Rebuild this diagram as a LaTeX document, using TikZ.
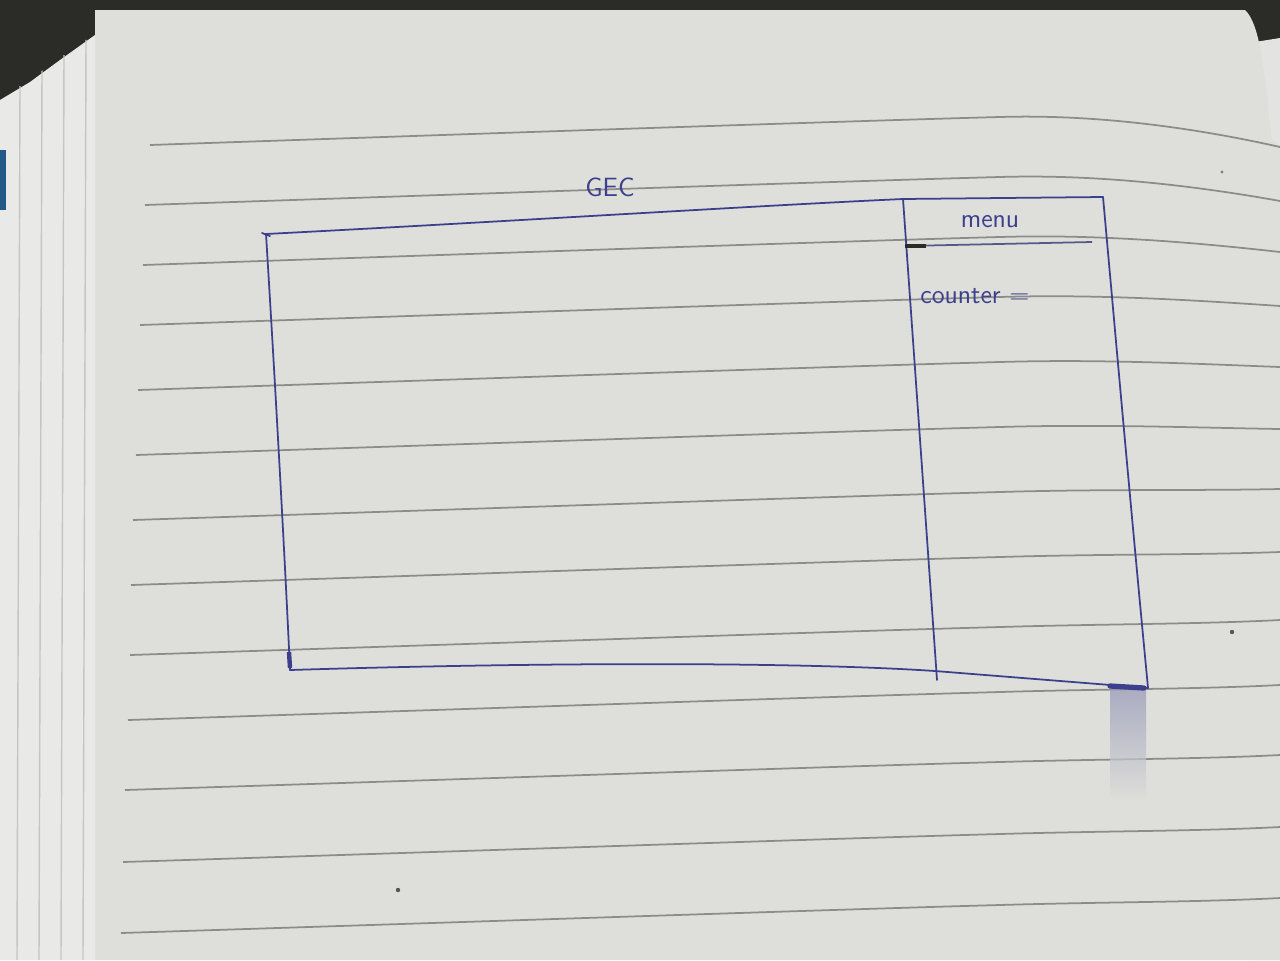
\documentclass[tikz,border=0pt]{standalone}
\usetikzlibrary{calc}
\definecolor{bgdark}{HTML}{2B2C28}
\definecolor{paper}{HTML}{DEDEDA}
\definecolor{stackpaper}{HTML}{E9E9E7}
\definecolor{stackline}{HTML}{C4C6C4}
\definecolor{rulegrey}{HTML}{8C8D8A}
\definecolor{inkblue}{HTML}{3B3F8C}
\begin{document}
\begin{tikzpicture}[x=0.02cm,y=-0.02cm,
  ink/.style={draw=inkblue, line width=1pt, line join=round, line cap=round},
  rule/.style={draw=rulegrey, line width=1pt},
  hand/.style={text=inkblue, font=\sffamily\fontsize{15}{15}\selectfont, inner sep=0pt}]
\useasboundingbox (0,0) rectangle (1280,960);

% desk and notebook page
\fill[bgdark] (0,0) rectangle (1280,960);
\fill[stackpaper!94!gray] (1255,42) -- (1280,38) -- (1280,960) -- (1255,960) -- cycle;
\fill[paper] (95,10) -- (1245,10) .. controls (1256,20) and (1262,50) .. (1266,90)
  -- (1272,140) -- (1280,145) -- (1280,960) -- (95,960) -- cycle;
% stacked page edges on the left
\fill[stackpaper] (0,100) -- (30,82) -- (60,60) -- (95,35) -- (95,960) -- (0,960) -- cycle;
\foreach \sx in {20,42,64,86}
  \draw[stackline, line width=0.8pt] (\sx,{100-(\sx*0.7)}) -- (\sx-3,960);
\fill[inkblue!60!teal] (0,150) rectangle (6,210);

% ruled lines of the notebook: left start, height, sag at the right edge
\foreach \ly/\lx/\sag in {145/150/30,205/145/24,265/143/15,325/140/9,390/138/5,
                          455/136/2,520/133/-3,585/131/-5,655/130/-7,720/128/-7,
                          790/125/-7,862/123/-7,933/121/-7}
  \draw[rule] (\lx,\ly) .. controls (500,\ly-12) and (850,\ly-24) .. (1000,\ly-28)
    .. controls (1100,\ly-31) and (1200,{\ly-28+0.4*\sag}) .. (1280,\ly-28+\sag);

% stray dots on the page
\fill[bgdark!80] (1232,632) circle (2.2);
\fill[bgdark!80] (398,890) circle (2.2);
\fill[bgdark!60] (1222,172) circle (1.6);

% ink bleed below the lower right corner
\shade[top color=inkblue!45!paper, bottom color=paper, opacity=0.7]
  (1110,688) rectangle (1146,800);

% corner points of the sketched layout
\coordinate (tl) at (266,234);
\coordinate (tm) at (903,199);
\coordinate (tr) at (1103,197);
\coordinate (br) at (1148,688);
\coordinate (bm) at (937,680);
\coordinate (bl) at (290,670);

% game area and side panel outline
\draw[ink] (tl) .. controls (500,222) and (750,206) .. (tm) -- (tr);
\draw[ink] (tl) .. controls (275,380) and (285,560) .. (bl);
\draw[ink] (bl) .. controls (550,662) and (800,662) .. (935,671)
  -- (br);
\draw[ink] (tr) .. controls (1115,330) and (1130,500) .. (br);
\draw[ink] (tm) -- (bm);
\draw[ink] (262,233) -- (270,236);
\draw[inkblue, line width=2.5pt] (289,652) -- (290,668);
\draw[inkblue, line width=3pt, line cap=round] (1110,686) -- (1144,688);

% menu heading with its underline
\coordinate (ul) at (905,246);
\coordinate (ur) at (1092,242);
\draw[draw=inkblue!60!gray, line width=1pt] (ul) -- (ur);
\draw[draw=bgdark, line width=2.6pt] (ul) -- (926,246);

% texts
\node[hand] (title) at (610,187) {GEC};
\node[hand] (menu) at (990,222) {menu};
\node[hand, anchor=west] (counter) at (920,296) {counter =};
\end{tikzpicture}
\end{document}
